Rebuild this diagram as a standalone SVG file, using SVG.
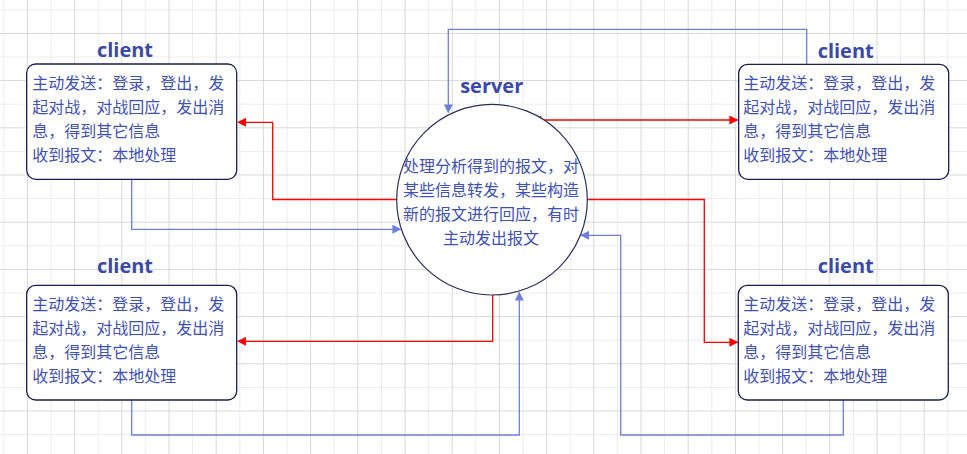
<svg xmlns="http://www.w3.org/2000/svg" width="967" height="454" viewBox="0 0 967 454">
<defs>
<pattern id="grid" x="3.3" y="9.3" width="47.2" height="47.2" patternUnits="userSpaceOnUse">
<path d="M0.5 0V47.2M0 0.5H47.2" stroke="#ececec" stroke-width="1" fill="none"/>
<path d="M24.1 0V47.2M0 24.1H47.2" stroke="#d8d8d8" stroke-width="1" fill="none"/>
</pattern>
<marker id="ar" viewBox="0 0 10 10" refX="9" refY="5" markerWidth="9" markerHeight="9" markerUnits="userSpaceOnUse" orient="auto">
<path d="M0 0L10 5L0 10Z" fill="#ff0000"/>
</marker>
<marker id="ab" viewBox="0 0 10 10" refX="9" refY="5" markerWidth="9" markerHeight="9" markerUnits="userSpaceOnUse" orient="auto">
<path d="M0 0L10 5L0 10Z" fill="#6d7fdc"/>
</marker>
</defs>
<style>
.box{fill:#fff;stroke:#1b1d4f;stroke-width:1.3}
.title{font-family:"Open Sans","Noto Sans",sans-serif;font-weight:bold;font-size:20px;fill:#3b4aa8;text-anchor:middle}
.t{font-family:"Noto Sans CJK SC",sans-serif;font-size:16px;fill:#3f51b5}
.red{fill:none;stroke:#ff0000;stroke-width:1.3;marker-end:url(#ar)}
.blue{fill:none;stroke:#6d7fdc;stroke-width:1.3;marker-end:url(#ab)}
</style>
<rect width="967" height="454" fill="#fff"/>
<rect width="967" height="454" fill="url(#grid)"/>

<g id="connectors">
<path class="red" d="M396.7 199.5H272.7V122.3H238"/>
<path class="red" d="M587.3 199.5H704.3V342.3H737.5"/>
<path class="red" d="M540.7 116V120H737.5"/>
<path class="red" d="M492.7 295V341.3H238"/>
<path class="blue" d="M131.7 179.3V229.3H400.5"/>
<path class="blue" d="M806.7 64.3V29.3H448.3V112.5"/>
<path class="blue" d="M843.3 400V435H620.7V235.3H581"/>
<path class="blue" d="M131.7 400V435H519.3V292.5"/>
</g>

<g id="server">
<circle cx="492" cy="199.7" r="95.3" fill="#fff" stroke="#2a2d5a" stroke-width="1.2"/>
<text class="title" x="491.7" y="93.3">server</text>
<text class="t" text-anchor="middle" x="491" y="171.5">处理分析得到的报文，对</text>
<text class="t" text-anchor="middle" x="491" y="195.5">某些信息转发，某些构造</text>
<text class="t" text-anchor="middle" x="491" y="219.5">新的报文进行回应，有时</text>
<text class="t" text-anchor="middle" x="491" y="243.5">主动发出报文</text>
</g>

<g id="client-tl">
<text class="title" x="125" y="57.3">client</text>
<rect class="box" x="26.7" y="64" width="210" height="115.3" rx="9"/>
<text class="t" x="32.3" y="88.5">主动发送：登录，登出，发</text>
<text class="t" x="32.3" y="112.5">起对战，对战回应，发出消</text>
<text class="t" x="32.3" y="136.5">息，得到其它信息</text>
<text class="t" x="32.3" y="160.5">收到报文：本地处理</text>
</g>

<g id="client-tr">
<text class="title" x="845.7" y="58">client</text>
<rect class="box" x="738.7" y="64.3" width="210" height="115" rx="9"/>
<text class="t" x="743.3" y="88.8">主动发送：登录，登出，发</text>
<text class="t" x="743.3" y="112.8">起对战，对战回应，发出消</text>
<text class="t" x="743.3" y="136.8">息，得到其它信息</text>
<text class="t" x="743.3" y="160.8">收到报文：本地处理</text>
</g>

<g id="client-bl">
<text class="title" x="125" y="273.3">client</text>
<rect class="box" x="26.7" y="285.3" width="210" height="114.7" rx="9"/>
<text class="t" x="32.3" y="310">主动发送：登录，登出，发</text>
<text class="t" x="32.3" y="334">起对战，对战回应，发出消</text>
<text class="t" x="32.3" y="358">息，得到其它信息</text>
<text class="t" x="32.3" y="382">收到报文：本地处理</text>
</g>

<g id="client-br">
<text class="title" x="845.7" y="272.5">client</text>
<rect class="box" x="738.3" y="285.3" width="210" height="114.7" rx="9"/>
<text class="t" x="743.3" y="310">主动发送：登录，登出，发</text>
<text class="t" x="743.3" y="334">起对战，对战回应，发出消</text>
<text class="t" x="743.3" y="358">息，得到其它信息</text>
<text class="t" x="743.3" y="382">收到报文：本地处理</text>
</g>
</svg>
